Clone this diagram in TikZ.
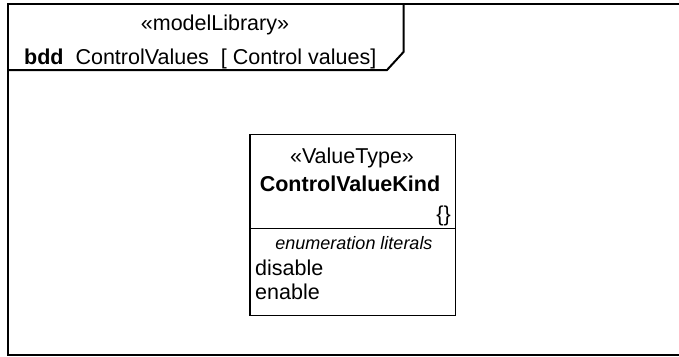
\documentclass[tikz,border=0pt]{standalone}
\usepackage{fontspec}
\setmainfont{Liberation Sans}
\tikzstyle{txt} = [inner sep=0pt, anchor=base, font=\fontsize{21.5}{25}\selectfont]
\tikzstyle{lit} = [txt, anchor=base west]
\tikzstyle{rim} = [line width=2pt]

\begin{document}
\begin{tikzpicture}[x=1pt, y=-1pt]
\useasboundingbox (0,0) rectangle (679,356);
%begin frame
\draw[rim] (7.7,4.3) rectangle (690,355);
\draw[rim] (403.5,4.3) -- (403.5,52) -- (387,70) -- (7.7,70);
\node[txt] (stereo) at (215,30) {«modelLibrary»};
\node[txt, anchor=base west] (title) at (24,64) {\textbf{bdd}\ \ ControlValues\ \ [ Control values]};
%end frame
%begin block
\draw[line width=1.5pt] (250,134.5) rectangle (455.5,315.5);
\draw[line width=1.5pt] (250,228.5) -- (455.5,228.5);
\node[txt] (kind) at (352,163) {«ValueType»};
\node[txt, font=\bfseries\fontsize{21.5}{25}\selectfont] (name) at (350,191) {ControlValueKind};
\node[txt, anchor=base east] (brace) at (451,221) {\{\}};
\node[txt, font=\itshape\fontsize{18}{21}\selectfont] (comp) at (354,249) {enumeration literals};
\node[lit] (lit1) at (255,275) {disable};
\node[lit] (lit2) at (255,299) {enable};
%end block
\end{tikzpicture}
\end{document}
